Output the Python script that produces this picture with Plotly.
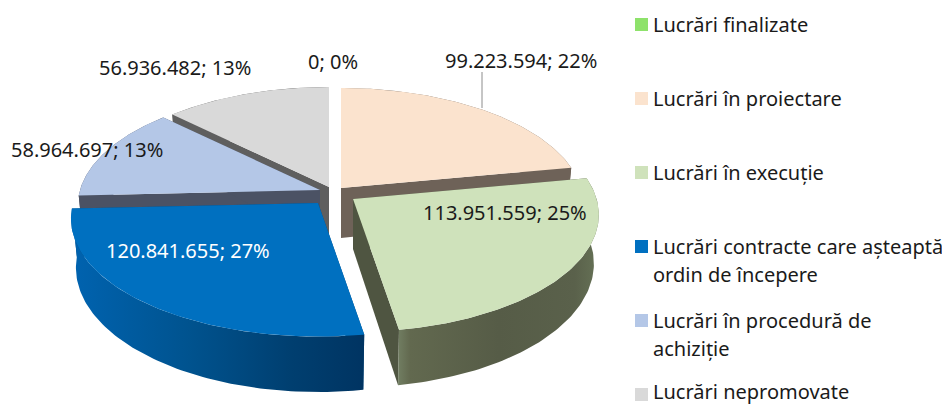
import math
import plotly.graph_objects as go

categories = ["Lucrări finalizate", "Lucrări în proiectare", "Lucrări în execuție",
              "Lucrări contracte care așteaptă ordin de începere",
              "Lucrări în procedură de achiziție", "Lucrări nepromovate"]
values = [0, 99223594, 113951559, 120841655, 58964697, 56936482]
percents = [0, 22, 25, 27, 13, 13]
legend_lines = [["Lucrări finalizate"], ["Lucrări în proiectare"], ["Lucrări în execuție"],
                ["Lucrări contracte care așteaptă", "ordin de începere"],
                ["Lucrări în procedură de", "achiziție"], ["Lucrări nepromovate"]]
top_colors = ["#8EE26B", "#FBE3CE", "#CFE2BB", "#0070C0", "#B4C7E7", "#D9D9D9"]
cut_colors = ["#666", "#6E6258", "#4F5541", "#004B82", "#4B5264", "#5F5F5F"]
rim_scales = [None, None,
              [[0, "#717E62"], [.06, "#62694F"], [.5, "#565C47"], [.88, "#5A614B"], [1, "#667256"]],
              [[0, "#0063B0"], [.4, "#00538F"], [.75, "#003F70"], [1, "#003462"]],
              None, None]
apexes = [(335, 187), (341, 188), (353, 199), (318, 203), (320, 190), (329, 187)]
slice_scale = [1, 1, 1.015, 1.02, 1, 1]
label_pos = [(333, 61), (521, 60), (505, 212), (188, 250), (87, 149), (175, 67)]
label_colors = ["#1a1a1a", "#1a1a1a", "#1a1a1a", "#fff", "#1a1a1a", "#1a1a1a"]
draw_order = [5, 4, 1, 2, 3]

RX, RY, K, APEX_DEPTH, RIM_DEPTH, BOTTOM_X = 240, 113.4, .134, 50, 48, .98


def project(apex, th, scale=1, depth=False):
    u, v = math.sin(th), math.cos(th)
    p = 1 / (1 + K * v)
    s = scale * p
    xs = BOTTOM_X if depth else 1
    return apex[0] + RX * u * s * xs, apex[1] - RY * v * s + (RIM_DEPTH * p if depth else 0)


def poly(x, y, color=None, gradient=None):
    kw = dict(fillgradient=dict(type="horizontal", colorscale=gradient)) if gradient else dict(fillcolor=color)
    return go.Scatter(x=x + x[:1], y=y + y[:1], mode="lines", fill="toself", line=dict(width=0),
                      hoverinfo="skip", showlegend=False, **kw)


total = sum(values)
angles = [0]
for v in values:
    angles.append(angles[-1] + 2 * math.pi * v / total)

fig = go.Figure()
for i in draw_order:
    a = apexes[i]
    sc = slice_scale[i]
    t0, t1 = angles[i], angles[i + 1]
    ths = [t0 + (t1 - t0) * j / 90 for j in range(91)]
    top = [project(a, t, sc) for t in ths]
    bot = [project(a, t, sc, True) for t in ths]
    for t in (t0, t1):
        p = project(a, t, sc)
        q = project(a, t, sc, True)
        fig.add_trace(poly([a[0], p[0], q[0], a[0]], [a[1], p[1], q[1], a[1] + APEX_DEPTH], cut_colors[i]))
    rim = top + bot[::-1]
    fig.add_trace(poly([p[0] for p in rim], [p[1] for p in rim], cut_colors[i], rim_scales[i]))
    fig.add_trace(poly([a[0]] + [p[0] for p in top], [a[1]] + [p[1] for p in top], top_colors[i]))

# leader line for the peach slice
fig.add_trace(go.Scatter(x=[482, 482], y=[72, 108], mode="lines", line=dict(color="#8c8c8c", width=1),
                         hoverinfo="skip", showlegend=False))

FONT = "Noto Sans"
SIZE = 20
for i, v in enumerate(values):
    fig.add_annotation(x=label_pos[i][0], y=label_pos[i][1], showarrow=False, borderpad=0,
                       text=f"{v:,}".replace(",", ".") + f"; {percents[i]}%",
                       font=dict(family=FONT, size=SIZE, color=label_colors[i]))

# legend
for i, name in enumerate(categories):
    yc = 24.5 + 74 * i
    fig.add_trace(go.Scatter(x=[641.5], y=[yc], mode="markers", name=name, showlegend=False,
                             marker=dict(symbol="square", size=13, color=top_colors[i], line=dict(width=0))))
    for j, line in enumerate(legend_lines[i]):
        fig.add_annotation(x=652, y=yc + 28 * j - (3 if i == 5 else 0), xanchor="left", showarrow=False, text=line,
                           borderpad=0, font=dict(family=FONT, size=SIZE, color="#1a1a1a"))

fig.update_layout(width=942, height=405, margin=dict(l=0, r=0, t=0, b=0), paper_bgcolor="white",
                  plot_bgcolor="white", showlegend=False,
                  xaxis=dict(range=[0, 942], visible=False, fixedrange=True),
                  yaxis=dict(range=[405, 0], visible=False, fixedrange=True))
fig.write_html("out.html", config=dict(displayModeBar=False),
               post_script="document.body.style.margin='0';document.body.style.overflow='hidden';")
